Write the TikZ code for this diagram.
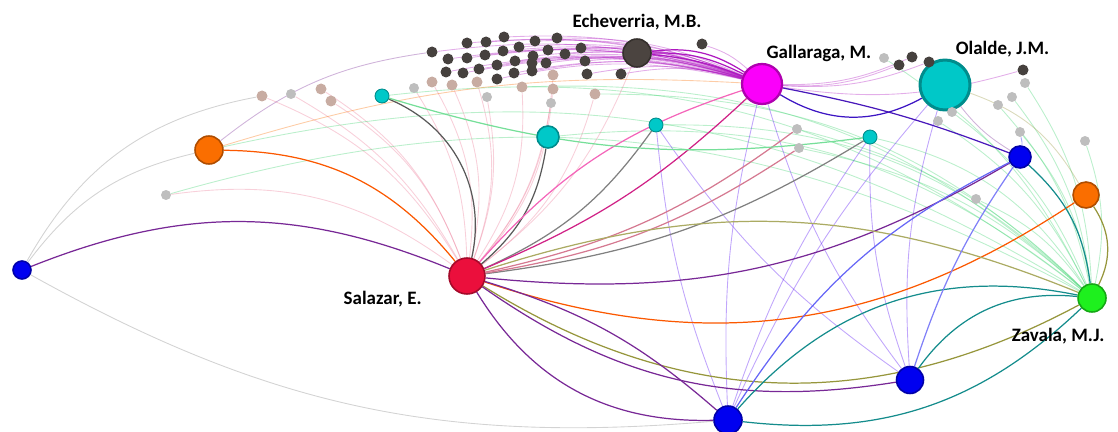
\documentclass[tikz,border=0pt]{standalone}
\usepackage{fontspec}
\setsansfont{Carlito}
\usetikzlibrary{positioning,backgrounds}

\definecolor{salred}{RGB}{235,15,60}
\definecolor{galmag}{RGB}{250,0,250}
\definecolor{olateal}{RGB}{0,200,200}
\definecolor{echdark}{RGB}{75,68,64}
\definecolor{zavgreen}{RGB}{30,240,30}
\definecolor{orng}{RGB}{250,110,0}
\definecolor{blu}{RGB}{0,0,240}
\definecolor{dotdark}{RGB}{70,65,62}
\definecolor{dottan}{RGB}{200,172,162}
\definecolor{dotgray}{RGB}{190,190,190}
\definecolor{lnpurple}{RGB}{120,40,150}
\definecolor{lnteal}{RGB}{20,140,140}
\definecolor{lnolive}{RGB}{150,150,60}
\definecolor{lngreen}{RGB}{60,210,110}
\definecolor{lnpink}{RGB}{235,120,150}

\begin{document}
\begin{tikzpicture}[x=0.02cm,y=-0.02cm,
  author/.style={circle,draw=#1!70!black,fill=#1,line width=0.9pt,inner sep=0pt},
  dot/.style={circle,fill=#1,inner sep=0pt,minimum size=0.22cm},
  link/.style={draw=#1,line width=0.7pt},
  faint/.style={draw=#1,line width=0.5pt,draw opacity=0.35},
  authorname/.style={font=\sffamily\bfseries\fontsize{10.8}{13}\selectfont,inner sep=1pt}]
    \useasboundingbox (0,0) rectangle (1118,432);

    % authors
    \node[author=salred,minimum size=0.72cm] (sal) at (467,276) {};
    \node[author=galmag,minimum size=0.8cm,line width=1.3pt] (gal) at (762,84) {};
    \node[author=olateal,minimum size=1cm,line width=1.7pt] (ola) at (945,85) {};
    \node[author=echdark,minimum size=0.56cm] (ech) at (637,53) {};
    \node[author=zavgreen,minimum size=0.56cm] (zav) at (1092,298) {};
    \node[author=orng,minimum size=0.56cm] (orl) at (209,150) {};
    \node[author=orng,minimum size=0.52cm] (orr) at (1086,195) {};
    \node[author=blu,minimum size=0.36cm] (bll) at (22,270) {};
    \node[author=blu,minimum size=0.44cm] (blt) at (1020,157) {};
    \node[author=blu,minimum size=0.56cm] (blb) at (728,420) {};
    \node[author=blu,minimum size=0.54cm] (blm) at (910,380) {};
    \node[author=olateal,minimum size=0.28cm,line width=0.5pt] (cy1) at (382,96) {};
    \node[author=olateal,minimum size=0.44cm] (cy2) at (548,137) {};
    \node[author=olateal,minimum size=0.28cm,line width=0.5pt] (cy3) at (656,125) {};
    \node[author=olateal,minimum size=0.28cm,line width=0.5pt] (cy4) at (870,137) {};
    \node[dot=dotgray,minimum size=0.2cm] (gr1) at (166,195) {};

    % small co-authors
    \foreach \x/\y [count=\i] in {432/52,467/43,486/42,504/37,535/41,557/38,448/59,467/58,
        485/55,503/51,519/47,533/56,548/50,565/54,581/48,446/72,463/73,479/69,497/65,515/61,
        532/63,546/63,585/61,497/79,514/73,532/71,587/74,621/74,702/44,899/65,912/57,929/62,1023/70}
        \node[dot=dotdark] (d\i) at (\x,\y) {};
    \foreach \x/\y [count=\i] in {432/82,452/85,477/82,522/87,553/75,553/89,595/94,262/96,321/89,331/101}
        \node[dot=dottan] (t\i) at (\x,\y) {};
    \foreach \x/\y [count=\i] in {414/88,487/97,551/103,291/94,884/58,1025/83,1012/97,998/105,
        952/112,938/121,797/129,799/148,1020/132,1085/141,976/199}
        \node[dot=dotgray,minimum size=0.2cm] (g\i) at (\x,\y) {};

    % names
    \node[authorname,below left=0cm and 0.6cm of sal] (salname) {Salazar, E.};
    \node[authorname,above right=0.1cm and -0.25cm of gal] (galname) {Gallaraga, M.};
    \node[authorname,above right=0.15cm and -0.2cm of ola] (olaname) {Olalde, J.M.};
    \node[authorname,above=0.12cm of ech] (echname) {Echeverria, M.B.};
    \node[authorname,below left=0.35cm and -0.5cm of zav] (zavname) {Zavala, M.J.};

    \begin{scope}[on background layer]
    % faint links
    \foreach \i in {1,...,33} \draw[faint=lnpurple!60!magenta] (gal) to[bend right=12] (d\i);
    \foreach \i in {1,...,10} \draw[faint=lnpink] (sal) to[bend right=18] (t\i);
    \foreach \i in {1,...,4} \draw[faint=lnpink] (sal) to[bend right=15] (g\i);
    \foreach \i in {5,...,15} \draw[faint=lngreen] (zav) to[bend right=15] (g\i);
    \foreach \n in {cy1,cy2,cy3,cy4,orl,gr1,t4,t7} \draw[faint=lngreen] (zav) to[bend right=22] (\n);
    \foreach \n in {gal,ola,cy4,cy3} {
        \draw[faint=blu!70!magenta] (blb) to[bend left=8] (\n);
        \draw[faint=blu!70!magenta] (blm) to[bend left=10] (\n);
    }
    \draw[faint=gray] (bll) to[bend right=17] (blb);
    \draw[faint=gray] (bll) to[bend left=25] (t8);
    \draw[faint=gray] (bll) to[bend left=20] (orl);
    \draw[faint=lnpink] (sal) to[bend right=22] (gr1);
    \draw[faint=lnpink] (sal) to[bend right=15] (ech);
    \draw[faint=orng] (orl) to[bend left=10] (gal);
    \draw[faint=lnpurple] (orl) to[bend left=15] (d1);
    \draw[faint=lnolive] (orr) to[bend right=20] (ola);
    \draw[faint=blu] (blt) to[bend right=10] (g13);
    \draw[faint=lnpurple] (ola) to[bend right=10] (blt);

    % co-author links
    \draw[link=lnpurple] (sal) to[bend right=22] (bll);
    \draw[link=orng!80!red] (sal) to[bend right=25] (orl);
    \draw[link=gray!70!black] (sal) to[bend right=40] (cy1);
    \draw[link=gray!70!black] (sal) to[bend right=20] (cy2);
    \draw[link=gray] (sal) to[bend right=15] (cy3);
    \draw[link=gray] (sal) to[bend right=12] (cy4);
    \draw[link=lnpink!80!gray] (sal) to[bend right=12] (g11);
    \draw[link=lnpink!80!gray] (sal) to[bend right=12] (g12);
    \draw[link=magenta!85!black] (sal) to[bend right=10] (gal);
    \draw[link=magenta!60] (sal) to[bend left=15] (gal);
    \draw[link=lnpurple] (sal) to[bend right=18] (blt);
    \draw[link=orng!80!red] (sal) to[bend right=26] (orr);
    \draw[link=lnolive] (sal) to[bend right=30] (zav);
    \draw[link=lnolive!80] (sal) to[bend left=20] (zav);
    \draw[link=lnpurple] (sal) to[bend right=30] (blb);
    \draw[link=lnpurple] (sal) to[bend left=12] (blb);
    \draw[link=lnpurple] (sal) to[bend right=22] (blm);
    \draw[link=lnteal] (zav) to[bend right=30] (blb);
    \draw[link=lnteal] (zav) to[bend left=25] (blb);
    \draw[link=lnteal] (zav) to[bend right=30] (blm);
    \draw[link=lnteal] (zav) to[bend right=20] (blt);
    \draw[link=lnolive] (zav) to[bend right=30] (orr);
    \draw[link=blu!60] (blb) to[bend left=15] (blt);
    \draw[link=blu!50] (blm) to[bend left=8] (blt);
    \draw[link=blu!50!lnpurple] (gal) to[bend right=30] (ola);
    \draw[link=blu!40!lnpurple] (gal) to[bend left=5] (blt);
    \foreach \b in {8,14,20} \draw[link=lnpurple!60!magenta] (gal) to[bend right=\b] (ech);
    \draw[link=lngreen!70] (cy1) to[bend right=12] (cy4);
    \end{scope}
\end{tikzpicture}
\end{document}
